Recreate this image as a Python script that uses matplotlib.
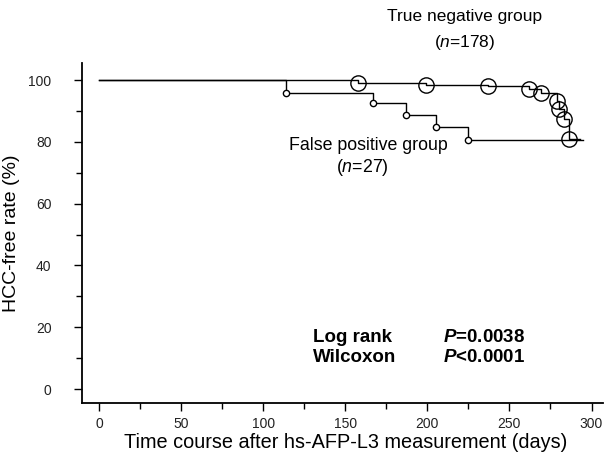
import numpy as np
import matplotlib.pyplot as plt
from matplotlib.ticker import MultipleLocator

plt.rcParams['font.family'] = ['Liberation Sans', 'DejaVu Sans']
plt.rcParams['mathtext.fontset'] = 'custom'
plt.rcParams['mathtext.rm'] = 'Liberation Sans'
plt.rcParams['mathtext.it'] = 'Liberation Sans:italic'
plt.rcParams['mathtext.bf'] = 'Liberation Sans:bold'
plt.rcParams['mathtext.bfit'] = 'Liberation Sans:bold:italic'

# True negative group (n=178): step times (days) and HCC-free rate (%)
tn_dias = [0, 158, 199, 237, 262, 269, 279, 280, 283, 286, 293]
tn_tasa = [100, 99.0, 98.4, 97.9, 97.0, 95.8, 93.2, 90.6, 87.4, 80.9, 80.9]

# False positive group (n=27)
fp_dias = [0, 114, 167, 187, 205, 225, 295]
fp_tasa = [100, 95.8, 92.6, 88.7, 84.8, 80.6, 80.6]

fig = plt.figure(figsize=(6.05, 4.53), dpi=100)
ax = fig.add_axes([82/605, 1-403/453, (603-82)/605, (403-63)/453])

ax.step(tn_dias, tn_tasa, where='post', color='black', lw=1.0)
ax.plot(tn_dias[1:-1], tn_tasa[1:-1], 'o', ms=11, mfc='none', mec='black', mew=1.0)

ax.step(fp_dias, fp_tasa, where='post', color='black', lw=1.0)
ax.plot(fp_dias[1:-1], fp_tasa[1:-1], 'o', ms=4.5, mfc='white', mec='black', mew=1.0)

ax.set_xlim(-10.4, 307)
ax.set_ylim(-4.5, 105.5)
ax.xaxis.set_major_locator(MultipleLocator(50))
ax.xaxis.set_minor_locator(MultipleLocator(25))
ax.yaxis.set_major_locator(MultipleLocator(20))
ax.yaxis.set_minor_locator(MultipleLocator(10))
ax.tick_params(axis='both', which='major', length=6, width=1, labelsize=10, colors='black')
ax.tick_params(axis='both', which='minor', length=4, width=1)
ax.tick_params(axis='y', which='major', pad=16)
ax.tick_params(axis='x', which='major', pad=4)
for lab in ax.get_xticklabels() + ax.get_yticklabels():
    lab.set_color('#222222')

ax.spines['top'].set_visible(False)
ax.spines['right'].set_visible(False)
ax.spines['left'].set_linewidth(1.3)
ax.spines['bottom'].set_linewidth(1.3)

ax.set_ylabel("HCC-free rate (%)", fontsize=14, labelpad=6)
fig.text(346/605, 1-443/453, "Time course after hs-AFP-L3 measurement (days)",
         fontsize=14.3, ha='center', va='center')

fig.text(465/605, 1-17/453, "True negative group", fontsize=12.5, ha='center', va='center')
fig.text(465/605, 1-43/453, "($\\it{n}$=178)", fontsize=12.5, ha='center', va='center')
fig.text(368/605, 1-145/453, "False positive group", fontsize=12.8, ha='center', va='center')
fig.text(362/605, 1-167/453, "($\\it{n}$=27)", fontsize=12.8, ha='center', va='center')

fig.text(313/605, 1-337/453, "Log rank", fontsize=13.5, fontweight='bold', va='center')
fig.text(313/605, 1-357/453, "Wilcoxon", fontsize=13.5, fontweight='bold', va='center')
fig.text(443/605, 1-337/453, "$\\boldsymbol{P}$=0.0038", fontsize=13.5, fontweight='bold', va='center')
fig.text(443/605, 1-357/453, "$\\boldsymbol{P}$<0.0001", fontsize=13.5, fontweight='bold', va='center')

plt.savefig("out.png", dpi=100)
